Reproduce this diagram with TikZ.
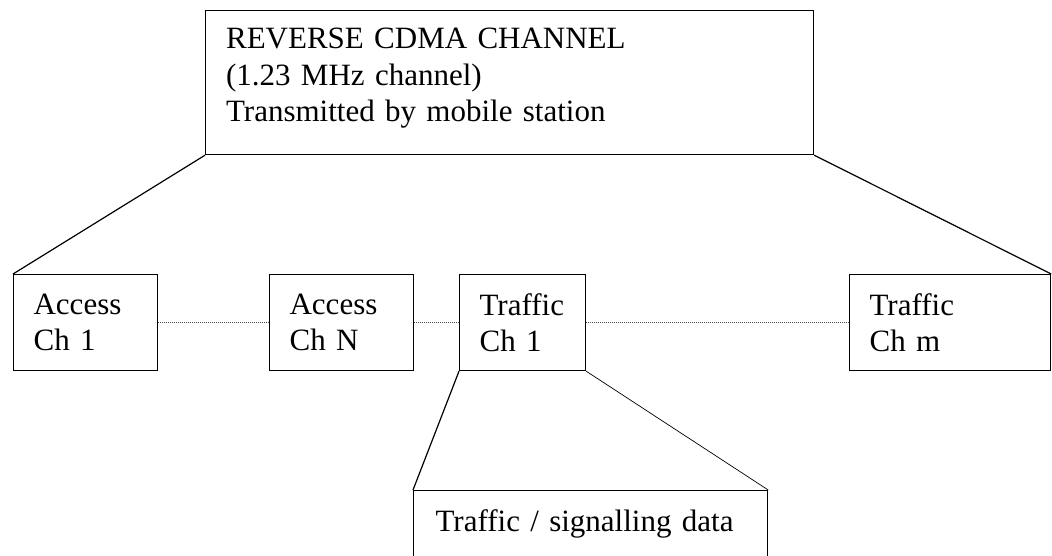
\documentclass[tikz,border=0pt]{standalone}
\usepackage{fontspec}
\setmainfont{Liberation Serif}
\begin{document}
\begin{tikzpicture}[x=1pt, y=-1pt,
  box/.style={draw, line width=1.2pt, rectangle, anchor=north west, inner ysep=0pt,
              inner xsep=20pt, align=left, font=\fontsize{31}{36.5}\selectfont},
  link/.style={line width=1.2pt},
  thinlink/.style={line width=0.7pt},
  dotlink/.style={line width=0.9pt, gray!60!black, dash pattern=on 1pt off 1pt}]
\useasboundingbox (0,0) rectangle (1052,555);

% main channel box
\node[box, minimum width=608pt, minimum height=144pt, text width=567pt] (top) at (205,10)
  {REVERSE CDMA CHANNEL\\(1.23 MHz channel)\\Transmitted by mobile station\rule[-15pt]{0pt}{0pt}};

% channel boxes
\node[box, minimum width=144pt, minimum height=96pt, text width=104pt] (a1) at (13,274) {Access\\Ch 1};
\node[box, minimum width=144pt, minimum height=96pt, text width=104pt] (aN) at (269,274) {Access\\Ch N};
\node[box, minimum width=126pt, minimum height=96pt, text width=86pt] (t1) at (459,274) {Traffic\\Ch 1};
\node[box, minimum width=201pt, minimum height=96pt, text width=161pt] (tm) at (849,274) {Traffic\\Ch m};

% data box (continues below the lower edge)
\node[box, minimum width=352pt, minimum height=90pt, text width=310pt, inner xsep=22pt] (data) at (413,490)
  {Traffic / signalling data\rule[-30pt]{0pt}{0pt}};

% fan-out connectors
\draw[link] (top.south west) -- (a1.north west);
\draw[link] (top.south east) -- (tm.north east);
\draw[link] (t1.south west) -- (data.north west);
\draw[thinlink] (t1.south east) -- (data.north east);

% dotted links between channels
\draw[dotlink] (a1.east) -- (aN.west);
\draw[dotlink] (aN.east) -- (t1.west);
\draw[dotlink] (t1.east) -- (tm.west);
\end{tikzpicture}
\end{document}
